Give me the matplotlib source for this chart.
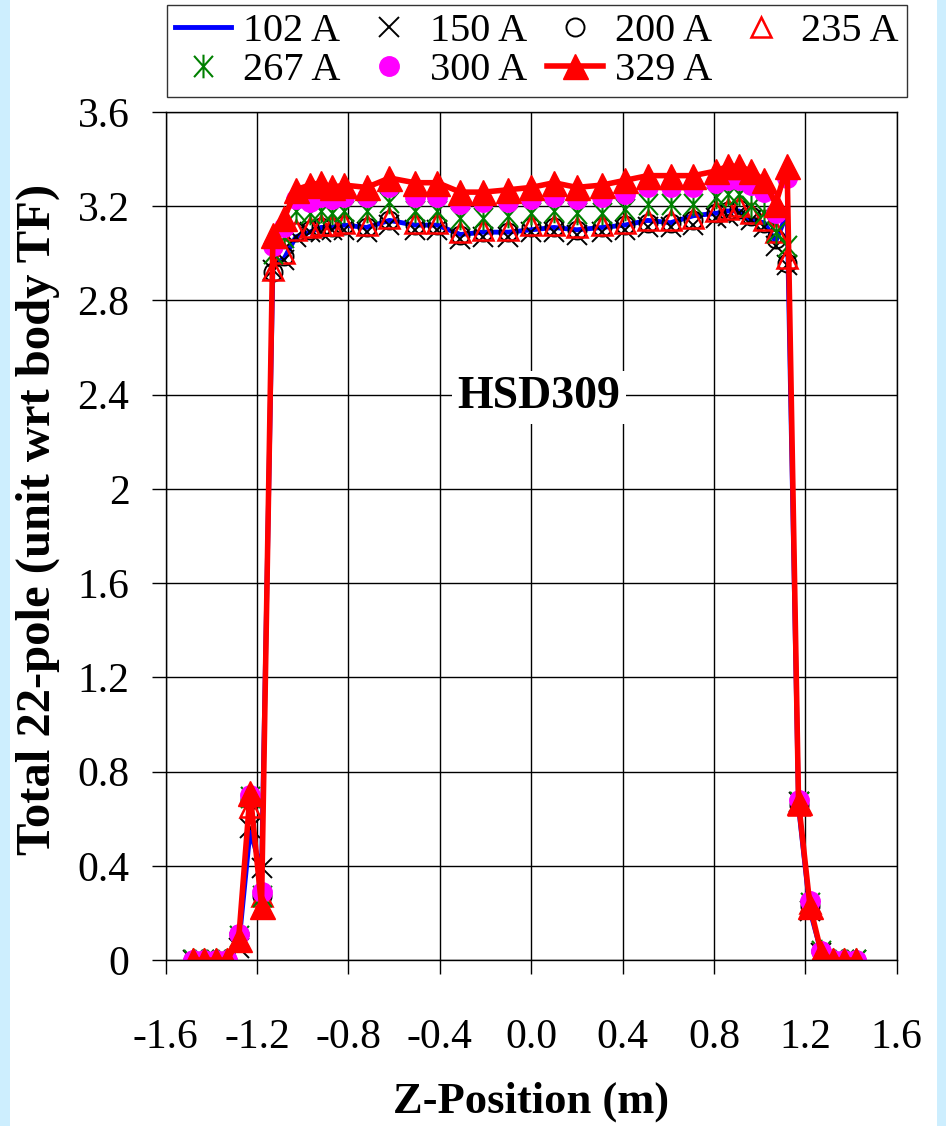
import matplotlib
matplotlib.use("Agg")
import matplotlib.pyplot as plt
from matplotlib.path import Path
from matplotlib.patches import Rectangle

plt.rcParams['font.family'] = ['Liberation Serif', 'DejaVu Serif']
plt.rcParams['axes.unicode_minus'] = False

# Z positions (m)
z = [-1.48, -1.43, -1.38, -1.33, -1.28, -1.23, -1.18, -1.13, -1.08, -1.03,
     -0.97, -0.92, -0.87, -0.82, -0.72, -0.62, -0.51, -0.41, -0.31, -0.21,
     -0.10, 0.00, 0.10, 0.20, 0.31, 0.41, 0.51, 0.61, 0.71, 0.81,
     0.86, 0.91, 0.96, 1.02, 1.07, 1.12, 1.17, 1.22, 1.27, 1.32, 1.37, 1.42]

# total 22-pole per current
b102 = [0, 0, 0, 0, 0.06, 0.55, 0.38,
        2.95, 2.98, 3.07, 3.09, 3.11, 3.11, 3.12, 3.11, 3.14, 3.12, 3.12, 3.08, 3.09,
        3.09, 3.10, 3.11, 3.10, 3.11, 3.12, 3.14, 3.13, 3.16, 3.17, 3.18, 3.18, 3.14,
        3.13, 3.05, 3.17,
        0.65, 0.21, 0.03, 0, 0, 0]
b150 = [0, 0, 0, 0, 0.05, 0.56, 0.39,
        2.93, 2.97, 3.07, 3.09, 3.09, 3.10, 3.10, 3.09, 3.12, 3.10, 3.10, 3.06, 3.07,
        3.07, 3.09, 3.09, 3.08, 3.09, 3.10, 3.11, 3.11, 3.12, 3.15, 3.16, 3.17, 3.14,
        3.11, 3.03, 2.95,
        0.67, 0.21, 0.03, 0, 0, 0]
b200 = [0, 0, 0, 0, 0.11, 0.68, 0.27,
        2.92, 2.99, 3.09, 3.10, 3.11, 3.11, 3.12, 3.11, 3.14, 3.12, 3.12, 3.08, 3.09,
        3.09, 3.11, 3.11, 3.10, 3.11, 3.12, 3.13, 3.13, 3.14, 3.17, 3.18, 3.19, 3.16,
        3.13, 3.06, 2.96,
        0.66, 0.23, 0.04, 0, 0, 0]
b235 = [0, 0, 0, 0, 0.08, 0.65, 0.27,
        2.93, 3.00, 3.10, 3.11, 3.12, 3.12, 3.13, 3.12, 3.15, 3.13, 3.13, 3.09, 3.10,
        3.10, 3.12, 3.12, 3.11, 3.12, 3.13, 3.14, 3.14, 3.15, 3.18, 3.19, 3.20, 3.17,
        3.14, 3.09, 2.98,
        0.66, 0.24, 0.03, 0, 0, 0]
b267 = [0, 0, 0, 0, 0.10, 0.69, 0.27,
        3.00, 3.07, 3.18, 3.17, 3.18, 3.17, 3.18, 3.18, 3.22, 3.18, 3.18, 3.15, 3.15,
        3.16, 3.17, 3.18, 3.17, 3.17, 3.19, 3.21, 3.21, 3.21, 3.24, 3.25, 3.25, 3.20,
        3.17, 3.09, 3.03,
        0.67, 0.24, 0.04, 0, 0, 0]
b300 = [0, 0, 0, 0, 0.11, 0.70, 0.29,
        3.03, 3.11, 3.23, 3.22, 3.24, 3.23, 3.24, 3.24, 3.28, 3.24, 3.24, 3.21, 3.22,
        3.22, 3.23, 3.24, 3.23, 3.24, 3.25, 3.28, 3.28, 3.28, 3.30, 3.31, 3.31, 3.29,
        3.26, 3.17, 3.32,
        0.68, 0.25, 0.04, 0, 0, 0]
b329 = [0, 0, 0, 0, 0.09, 0.71, 0.23,
        3.08, 3.15, 3.27, 3.29, 3.30, 3.28, 3.29, 3.28, 3.32, 3.30, 3.30, 3.26, 3.26,
        3.27, 3.28, 3.30, 3.28, 3.29, 3.31, 3.33, 3.33, 3.33, 3.35, 3.37, 3.37, 3.35,
        3.31, 3.21, 3.37,
        0.67, 0.23, 0.03, 0, 0, 0]

xticks = [-1.6, -1.2, -0.8, -0.4, 0.0, 0.4, 0.8, 1.2, 1.6]
xticklabels = ["-1.6", "-1.2", "-0.8", "-0.4", "0.0", "0.4", "0.8", "1.2", "1.6"]
yticks = [0, 0.4, 0.8, 1.2, 1.6, 2.0, 2.4, 2.8, 3.2, 3.6]
yticklabels = ["0", "0.4", "0.8", "1.2", "1.6", "2", "2.4", "2.8", "3.2", "3.6"]

# asterisk marker like Excel's (x plus vertical bar)
star = Path([(0, -1), (0, 1), (-0.8, -0.9), (0.8, 0.9), (-0.8, 0.9), (0.8, -0.9)],
            [Path.MOVETO, Path.LINETO, Path.MOVETO, Path.LINETO, Path.MOVETO, Path.LINETO])

fig = plt.figure(figsize=(9.46, 11.26), dpi=100)
fig.patches.append(Rectangle((0, 0), 10/946, 1, transform=fig.transFigure,
                             facecolor='#cdeefe', edgecolor='none'))
fig.patches.append(Rectangle((937/946, 0), 9/946, 1, transform=fig.transFigure,
                             facecolor='#cdeefe', edgecolor='none'))

ax = fig.add_axes([0.175, 0.1474, 0.773, 0.7531])

h102, = ax.plot(z, b102, color='#0000ff', lw=3.5, label='102 A')
h150, = ax.plot(z, b150, ls='none', marker='x', ms=15, mew=1.4, color='black', label='150 A')
h200, = ax.plot(z, b200, ls='none', marker='o', ms=13, mew=1.4, mec='black',
                mfc='none', label='200 A')
h235, = ax.plot(z, b235, ls='none', marker='^', ms=15, mew=1.8, mec='red',
                mfc='none', label='235 A')
h267, = ax.plot(z, b267, ls='none', marker=star, ms=17, mew=1.5, color='green', label='267 A')
h300, = ax.plot(z, b300, ls='none', marker='o', ms=14, color='magenta', label='300 A')
h329, = ax.plot(z, b329, color='red', lw=4, marker='^', ms=18, label='329 A')

ax.set_xlim(-1.6, 1.6)
ax.set_ylim(0, 3.6)
ax.set_xticks(xticks)
ax.set_xticklabels(xticklabels)
ax.set_yticks(yticks)
ax.set_yticklabels(yticklabels)
ax.tick_params(axis='both', direction='out', length=10, width=1, labelsize=30)
ax.tick_params(axis='x', pad=32)
ax.tick_params(axis='y', pad=16)
ax.grid(True, color='black', lw=1)
ax.set_axisbelow(True)
for s in ax.spines.values():
    s.set_color('black')
    s.set_linewidth(1)

ax.set_xlabel('Z-Position (m)', fontsize=32, fontweight='bold')
ax.xaxis.set_label_coords(0.5, -0.143)
ax.set_ylabel('Total 22-pole (unit wrt body TF)', fontsize=35, fontweight='bold')
ax.yaxis.set_label_coords(-0.145, 0.52)

ax.text(0.035, 2.39, 'HSD309', ha='center', va='center', fontsize=33,
        fontweight='bold', bbox=dict(facecolor='white', edgecolor='none', pad=4))

# column-major order so that the legend reads row by row
handles = [h102, h267, h150, h300, h200, h329, h235]
leg = fig.legend(handles=handles, labels=[h.get_label() for h in handles],
                 loc='upper left', bbox_to_anchor=(0.1765, 0.9139, 0.782, 0.0817),
                 bbox_transform=fig.transFigure, mode='expand', ncol=4,
                 fontsize=29, frameon=True, fancybox=False, borderaxespad=0,
                 handlelength=1.4, handletextpad=0.3, labelspacing=0.05,
                 borderpad=0.2, columnspacing=0.5)
leg.get_frame().set_edgecolor('black')
leg.get_frame().set_linewidth(1)

fig.savefig('out.png', dpi=100)
